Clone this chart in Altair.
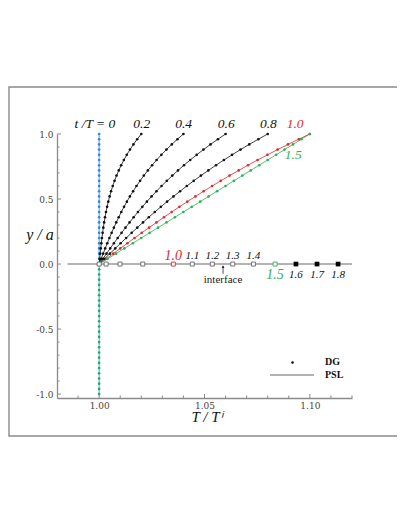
import altair as alt
import pandas as pd

# ---------------- data ----------------
y_up = [0.00, 0.04, 0.08, 0.12, 0.16, 0.20, 0.24, 0.28, 0.32, 0.36, 0.40, 0.44, 0.48,
        0.52, 0.56, 0.60, 0.64, 0.68, 0.72, 0.76, 0.80, 0.84, 0.88, 0.92, 0.96, 1.00]
x_t00 = [1.0, 1.0, 1.0, 1.0, 1.0, 1.0, 1.0, 1.0, 1.0, 1.0, 1.0, 1.0, 1.0,
         1.0, 1.0, 1.0, 1.0, 1.0, 1.0, 1.0, 1.0, 1.0, 1.0, 1.0, 1.0, 1.0]
x_t02 = [1.0, 1.00025, 1.0005, 1.00076, 1.00103, 1.00133, 1.00164, 1.00199, 1.00237,
         1.00279, 1.00325, 1.00377, 1.00434, 1.00497, 1.00567, 1.00645, 1.00731, 1.00826,
         1.00931, 1.01046, 1.01173, 1.01311, 1.01462, 1.01627, 1.01806, 1.02]
x_t04 = [1.0, 1.00095, 1.00191, 1.00287, 1.00386, 1.00487, 1.00592, 1.007, 1.00812,
         1.00929, 1.01052, 1.01181, 1.01317, 1.0146, 1.01612, 1.01772, 1.01942, 1.02121,
         1.02312, 1.02513, 1.02727, 1.02954, 1.03194, 1.03448, 1.03716, 1.04]
x_t06 = [1.0, 1.00174, 1.00348, 1.00524, 1.00701, 1.00881, 1.01064, 1.01251, 1.01443,
         1.01639, 1.01842, 1.0205, 1.02266, 1.02489, 1.02721, 1.02962, 1.03212, 1.03472,
         1.03743, 1.04026, 1.04321, 1.04629, 1.0495, 1.05285, 1.05635, 1.06]
x_t08 = [1.0, 1.00253, 1.00508, 1.00763, 1.0102, 1.0128, 1.01543, 1.0181, 1.02081,
         1.02358, 1.0264, 1.02929, 1.03224, 1.03528, 1.03839, 1.0416, 1.0449, 1.04831,
         1.05182, 1.05545, 1.0592, 1.06308, 1.06709, 1.07124, 1.07555, 1.08]
x_t10 = [1.0, 1.00333, 1.00668, 1.01003, 1.0134, 1.0168, 1.02023, 1.0237, 1.02721,
         1.03078, 1.0344, 1.03809, 1.04184, 1.04568, 1.04959, 1.0536, 1.0577, 1.06191,
         1.06622, 1.07065, 1.0752, 1.07988, 1.08469, 1.08964, 1.09475, 1.1]
x_t15 = [1.0, 1.00399, 1.00798, 1.01198, 1.01598, 1.01997, 1.02397, 1.02796, 1.03196,
         1.03596, 1.03996, 1.04395, 1.04795, 1.05195, 1.05595, 1.05996, 1.06396, 1.06796,
         1.07196, 1.07597, 1.07997, 1.08398, 1.08798, 1.09199, 1.09599, 1.1]
y_low = [0.00, -0.04, -0.08, -0.12, -0.16, -0.20, -0.24, -0.28, -0.32, -0.36, -0.40, -0.44, -0.48,
         -0.52, -0.56, -0.60, -0.64, -0.68, -0.72, -0.76, -0.80, -0.84, -0.88, -0.92, -0.96, -1.00]
x_low = [1.0, 1.0, 1.0, 1.0, 1.0, 1.0, 1.0, 1.0, 1.0, 1.0, 1.0, 1.0, 1.0,
         1.0, 1.0, 1.0, 1.0, 1.0, 1.0, 1.0, 1.0, 1.0, 1.0, 1.0, 1.0, 1.0]

series_keys = ["low", "t00", "t02", "t04", "t06", "t08", "t10", "t15"]
series_colors = ["#1ba67c", "#2a86ee", "#111111", "#111111", "#111111", "#111111", "#e3262b", "#2cb156"]

# interface positions on y = 0
iface_gray_x = [1.0, 1.0033, 1.0099, 1.0207, 1.0442, 1.0537, 1.0634, 1.0732]
iface_red_x = [1.0352]
iface_green_x = [1.0835]
iface_fill_x = [1.0934, 1.1034, 1.1134]

iface_up_text = ["1.1", "1.2", "1.3", "1.4"]
iface_up_x = [1.0442, 1.0537, 1.0634, 1.0732]
iface_dn_text = ["1.6", "1.7", "1.8"]
iface_dn_x = [1.0934, 1.1034, 1.1134]

top_text = ["0.2", "0.4", "0.6", "0.8"]
top_x = [1.0202, 1.0401, 1.0603, 1.0803]

x_major = [1.00, 1.05, 1.10]
x_minor = [0.99, 1.01, 1.02, 1.03, 1.04, 1.06, 1.07, 1.08, 1.09, 1.11, 1.12]
y_major = [-1.0, -0.5, 0.0, 0.5, 1.0]
y_minor = [-0.9, -0.8, -0.7, -0.6, -0.4, -0.3, -0.2, -0.1, 0.1, 0.2, 0.3, 0.4, 0.6, 0.7, 0.8, 0.9]

zero_line_x = [0.985]
zero_line_x2 = [1.12]

# ---------------- build tables ----------------
rows = []
for key, xs in zip(series_keys[1:], [x_t00, x_t02, x_t04, x_t06, x_t08, x_t10, x_t15]):
    for xv, yv in zip(xs, y_up):
        rows.append({"x": xv, "y": yv, "s": key})
for xv, yv in zip(x_low, y_low):
    rows.append({"x": xv, "y": yv, "s": "low"})
curves = pd.DataFrame(rows)

W, H = 295, 264
AX = "#8a8a8a"
xscale = alt.Scale(domain=[0.98, 1.12], nice=False, zero=False)
yscale = alt.Scale(domain=[-1.03, 1.0], nice=False, zero=False)
xaxis = alt.Axis(values=x_major, format=".2f", title=None, ticks=False, tickSize=0, grid=False,
                 domainColor=AX, domainWidth=1.3, labelFont="DejaVu Serif", labelFontSize=9,
                 labelColor="#444444", labelPadding=3)
yaxis = alt.Axis(values=y_major, title=None, ticks=False, tickSize=0, grid=False,
                 labelExpr="datum.value < 0 ? '-' + format(-datum.value, '.1f') : format(datum.value, '.1f')",
                 domainColor=AX, domainWidth=1.3, labelFont="DejaVu Serif", labelFontSize=9,
                 labelColor="#444444", labelPadding=4)


def X(f="x"):
    return alt.X(f, type="quantitative", scale=xscale, axis=xaxis)


def Y(f="y"):
    return alt.Y(f, type="quantitative", scale=yscale, axis=yaxis)


cscale = alt.Scale(domain=series_keys, range=series_colors)
dummy = pd.DataFrame({"x": [1.0], "y": [0.0]})

# outer frame
frame = alt.Chart(dummy).mark_rect(fill="transparent", stroke="#8a8a8a", strokeWidth=1.4, clip=False).encode(
    x=alt.value(-48), x2=alt.value(342), y=alt.value(-47), y2=alt.value(302))

# inward ticks
tx_major = alt.Chart(pd.DataFrame({"x": x_major})).mark_rule(color=AX, strokeWidth=1).encode(
    x=X(), y=alt.value(H), y2=alt.value(H - 4))
tx_minor = alt.Chart(pd.DataFrame({"x": x_minor})).mark_rule(color=AX, strokeWidth=1).encode(
    x=X(), y=alt.value(H), y2=alt.value(H - 2.5))
ty_major = alt.Chart(pd.DataFrame({"y": y_major})).mark_rule(color=AX, strokeWidth=1).encode(
    y=Y(), x=alt.value(0), x2=alt.value(4))
ty_minor = alt.Chart(pd.DataFrame({"y": y_minor})).mark_rule(color=AX, strokeWidth=1).encode(
    y=Y(), x=alt.value(0), x2=alt.value(2.5))

# y = 0 grey line
zline = alt.Chart(pd.DataFrame({"x": zero_line_x, "x2": zero_line_x2, "y": [0.0]})).mark_rule(
    color="#9a9a9a", strokeWidth=1.5).encode(x=X(), x2="x2:Q", y=Y())

lines = alt.Chart(curves).mark_line(strokeWidth=0.8, clip=False).encode(
    x=X(), y=Y(), color=alt.Color("s:N", scale=cscale, legend=None), detail="s:N",
    order=alt.Order("y:Q"))
dots = alt.Chart(curves).mark_circle(size=7, opacity=1, clip=False).encode(
    x=X(), y=Y(), color=alt.Color("s:N", scale=cscale, legend=None))


def open_squares(xs, col):
    return alt.Chart(pd.DataFrame({"x": xs, "y": [0.0] * len(xs)})).mark_point(
        shape="square", size=16, filled=False, fill="white", fillOpacity=1, strokeWidth=0.9,
        opacity=1, color=col).encode(x=X(), y=Y())


sq_gray = open_squares(iface_gray_x, "#666666")
sq_red = open_squares(iface_red_x, "#e3262b")
sq_green = open_squares(iface_green_x, "#2cb156")
sq_fill = alt.Chart(pd.DataFrame({"x": iface_fill_x, "y": [0.0] * len(iface_fill_x)})).mark_square(
    size=22, color="#000000", opacity=1).encode(x=X(), y=Y())

ital = dict(font="Liberation Serif", fontStyle="italic", baseline="middle", align="center")

up_labels = alt.Chart(pd.DataFrame({"x": iface_up_x, "y": [0.062] * 4, "t": iface_up_text})).mark_text(
    fontSize=11, color="#111111", **ital).encode(x=X(), y=Y(), text="t:N")
dn_labels = alt.Chart(pd.DataFrame({"x": iface_dn_x, "y": [-0.082] * 3, "t": iface_dn_text})).mark_text(
    fontSize=11, color="#111111", **ital).encode(x=X(), y=Y(), text="t:N")
red10 = alt.Chart(pd.DataFrame({"x": [1.0352], "y": [0.064]})).mark_text(
    text="1.0", fontSize=14, color="#e3262b", **ital).encode(x=X(), y=Y())
green15 = alt.Chart(pd.DataFrame({"x": [1.0835], "y": [-0.082]})).mark_text(
    text="1.5", fontSize=14, color="#2cb156", **ital).encode(x=X(), y=Y())
iface_txt = alt.Chart(pd.DataFrame({"x": [1.0588], "y": [-0.124]})).mark_text(
    text="interface", fontSize=11, font="Liberation Serif", color="#222222", baseline="middle").encode(x=X(), y=Y())
arrow = alt.Chart(pd.DataFrame({"x": [1.0588], "y": [-0.075], "y2": [-0.014]})).mark_rule(
    color="#222222", strokeWidth=0.8).encode(x=X(), y=Y(), y2="y2:Q")
arrow_head = alt.Chart(pd.DataFrame({"x": [1.0588], "y": [-0.02]})).mark_point(
    shape="triangle-up", size=8, filled=True, color="#222222", opacity=1).encode(x=X(), y=Y())

top_labels = alt.Chart(pd.DataFrame({"x": top_x, "y": [1.077] * 4, "t": top_text})).mark_text(
    fontSize=13.5, color="#111111", clip=False, **ital).encode(x=X(), y=Y(), text="t:N")
t0_label = alt.Chart(pd.DataFrame({"x": [0.998], "y": [1.077]})).mark_text(
    text="t /T = 0", fontSize=13.5, color="#111111", clip=False, **ital).encode(x=X(), y=Y())
top_red = alt.Chart(pd.DataFrame({"x": [1.093], "y": [1.077]})).mark_text(
    text="1.0", fontSize=13.5, color="#e3262b", clip=False, **ital).encode(x=X(), y=Y())
top_green = alt.Chart(pd.DataFrame({"x": [1.0921], "y": [0.835]})).mark_text(
    text="1.5", fontSize=13.5, color="#2cb156", clip=False, **ital).encode(x=X(), y=Y())

# axis titles
ytitle = alt.Chart(dummy).mark_text(text="y / a", fontSize=16, color="#111111", **ital).encode(
    x=alt.value(-17), y=alt.value(101))
xtitle = alt.Chart(dummy).mark_text(text="T / T\u2071", fontSize=15, color="#111111", **ital).encode(
    x=alt.value(150), y=alt.value(283))

# legend
leg_dot = alt.Chart(dummy).mark_circle(size=6, color="#000000", opacity=1).encode(
    x=alt.value(235.5), y=alt.value(228.5))
leg_line = alt.Chart(dummy).mark_rule(color="#9a9a9a", strokeWidth=1.3).encode(
    x=alt.value(213), x2=alt.value(257), y=alt.value(241))
bold = dict(font="Liberation Serif", fontWeight="bold", fontSize=10, color="#111111", align="left", baseline="middle")
leg_dg = alt.Chart(dummy).mark_text(text="DG", **bold).encode(x=alt.value(268), y=alt.value(228))
leg_psl = alt.Chart(dummy).mark_text(text="PSL", **bold).encode(x=alt.value(268), y=alt.value(241))

chart = alt.layer(
    frame, zline, tx_major, tx_minor, ty_major, ty_minor, lines, dots,
    sq_gray, sq_red, sq_green, sq_fill,
    arrow, arrow_head, up_labels, dn_labels, red10, green15, iface_txt,
    top_labels, t0_label, top_red, top_green, ytitle, xtitle,
    leg_dot, leg_line, leg_dg, leg_psl
).properties(
    width=W, height=H,
    autosize=alt.AutoSizeParams(type="none"),
    padding={"left": 49, "top": 126, "right": 45, "bottom": 118},
    background="white",
).configure_view(stroke=None)

chart.save("out.html", embed_options={"renderer": "svg", "actions": False})
